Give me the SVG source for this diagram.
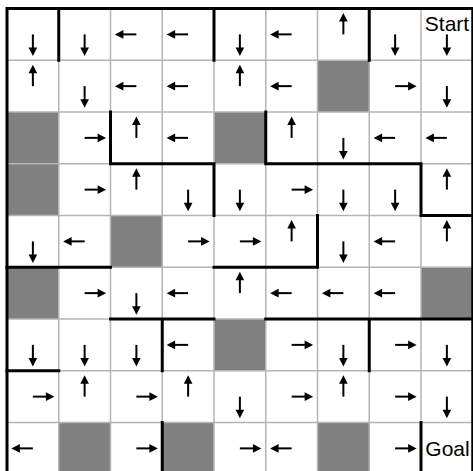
<svg xmlns="http://www.w3.org/2000/svg" width="473" height="471" viewBox="0 0 473 471">
<style>
.g{fill:#808080}
.grid line{stroke:#b4b4b4;stroke-width:1.5}
.wall{fill:none;stroke:#000;stroke-width:3;stroke-linecap:square}
.t{font-family:"Liberation Sans",Arial,sans-serif;font-size:21px;fill:#000;text-anchor:middle}
</style>
<defs>
<g id="a"><line x1="0" y1="0" x2="14" y2="0" stroke="#000" stroke-width="2"/><polygon points="21.5,0 13,-4.3 13,4.3" fill="#000"/></g>
</defs>
<rect width="473" height="471" fill="#fff"/>
<g id="blocked">
<rect class="g" x="317.5" y="60.25" width="51.75" height="51.75"/>
<rect class="g" x="7" y="112" width="51.75" height="51.75"/>
<rect class="g" x="214" y="112" width="51.75" height="51.75"/>
<rect class="g" x="7" y="163.75" width="51.75" height="51.75"/>
<rect class="g" x="110.5" y="215.5" width="51.75" height="51.75"/>
<rect class="g" x="7" y="267.25" width="51.75" height="51.75"/>
<rect class="g" x="421" y="267.25" width="51.75" height="51.75"/>
<rect class="g" x="214" y="319" width="51.75" height="51.75"/>
<rect class="g" x="58.75" y="422.5" width="51.75" height="51.75"/>
<rect class="g" x="162.25" y="422.5" width="51.75" height="51.75"/>
<rect class="g" x="317.5" y="422.5" width="51.75" height="51.75"/>
</g>
<g class="grid">
<line x1="58.75" y1="8.5" x2="58.75" y2="474.25"/>
<line x1="110.5" y1="8.5" x2="110.5" y2="474.25"/>
<line x1="162.25" y1="8.5" x2="162.25" y2="474.25"/>
<line x1="214" y1="8.5" x2="214" y2="474.25"/>
<line x1="265.75" y1="8.5" x2="265.75" y2="474.25"/>
<line x1="317.5" y1="8.5" x2="317.5" y2="474.25"/>
<line x1="369.25" y1="8.5" x2="369.25" y2="474.25"/>
<line x1="421" y1="8.5" x2="421" y2="474.25"/>
<line x1="7" y1="60.25" x2="472.75" y2="60.25"/>
<line x1="7" y1="112" x2="472.75" y2="112"/>
<line x1="7" y1="163.75" x2="472.75" y2="163.75"/>
<line x1="7" y1="215.5" x2="472.75" y2="215.5"/>
<line x1="7" y1="267.25" x2="472.75" y2="267.25"/>
<line x1="7" y1="319" x2="472.75" y2="319"/>
<line x1="7" y1="370.75" x2="472.75" y2="370.75"/>
<line x1="7" y1="422.5" x2="472.75" y2="422.5"/>
</g>
<g id="walls">
<rect class="wall" x="7" y="8.5" width="465.75" height="465.75"/>
<path class="wall" d="M58.75 8.5V60.25M214 8.5V60.25M369.25 8.5V60.25"/>
<path class="wall" d="M110.5 112V163.75H214V215.5"/>
<path class="wall" d="M265.75 112V163.75H421V215.5H472.75"/>
<path class="wall" d="M214 267.25H317.5V215.5"/>
<path class="wall" d="M7 267.25H110.5"/>
<path class="wall" d="M110.5 319H214M162.25 319V370.75"/>
<path class="wall" d="M265.75 319H472.75M369.25 319V370.75"/>
<path class="wall" d="M7 370.75H58.75"/>
<path class="wall" d="M162.25 422.5V474.25M421 422.5V474.25"/>
</g>
<g id="row0">
<use href="#a" transform="translate(32.875,34.375) rotate(90)"/>
<use href="#a" transform="translate(84.625,34.375) rotate(90)"/>
<use href="#a" transform="translate(136.375,34.375) rotate(180)"/>
<use href="#a" transform="translate(188.125,34.375) rotate(180)"/>
<use href="#a" transform="translate(239.875,34.375) rotate(90)"/>
<use href="#a" transform="translate(291.625,34.375) rotate(180)"/>
<use href="#a" transform="translate(343.375,34.375) rotate(-90)"/>
<use href="#a" transform="translate(395.125,34.375) rotate(90)"/>
</g>
<g id="start">
<text class="t" x="447" y="31">Start</text>
<use href="#a" transform="translate(446.875,34.375) rotate(90)"/>
</g>
<g id="row1">
<use href="#a" transform="translate(32.875,86.125) rotate(-90)"/>
<use href="#a" transform="translate(84.625,86.125) rotate(90)"/>
<use href="#a" transform="translate(136.375,86.125) rotate(180)"/>
<use href="#a" transform="translate(188.125,86.125) rotate(180)"/>
<use href="#a" transform="translate(239.875,86.125) rotate(-90)"/>
<use href="#a" transform="translate(291.625,86.125) rotate(180)"/>
<use href="#a" transform="translate(395.125,86.125) rotate(0)"/>
<use href="#a" transform="translate(446.875,86.125) rotate(90)"/>
</g>
<g id="row2">
<use href="#a" transform="translate(84.625,137.875) rotate(0)"/>
<use href="#a" transform="translate(136.375,137.875) rotate(-90)"/>
<use href="#a" transform="translate(188.125,137.875) rotate(180)"/>
<use href="#a" transform="translate(291.625,137.875) rotate(-90)"/>
<use href="#a" transform="translate(343.375,137.875) rotate(90)"/>
<use href="#a" transform="translate(395.125,137.875) rotate(180)"/>
<use href="#a" transform="translate(446.875,137.875) rotate(180)"/>
</g>
<g id="row3">
<use href="#a" transform="translate(84.625,189.625) rotate(0)"/>
<use href="#a" transform="translate(136.375,189.625) rotate(-90)"/>
<use href="#a" transform="translate(188.125,189.625) rotate(90)"/>
<use href="#a" transform="translate(239.875,189.625) rotate(90)"/>
<use href="#a" transform="translate(291.625,189.625) rotate(0)"/>
<use href="#a" transform="translate(343.375,189.625) rotate(90)"/>
<use href="#a" transform="translate(395.125,189.625) rotate(90)"/>
<use href="#a" transform="translate(446.875,189.625) rotate(-90)"/>
</g>
<g id="row4">
<use href="#a" transform="translate(32.875,241.375) rotate(90)"/>
<use href="#a" transform="translate(84.625,241.375) rotate(180)"/>
<use href="#a" transform="translate(188.125,241.375) rotate(0)"/>
<use href="#a" transform="translate(239.875,241.375) rotate(0)"/>
<use href="#a" transform="translate(291.625,241.375) rotate(-90)"/>
<use href="#a" transform="translate(343.375,241.375) rotate(90)"/>
<use href="#a" transform="translate(395.125,241.375) rotate(180)"/>
<use href="#a" transform="translate(446.875,241.375) rotate(-90)"/>
</g>
<g id="row5">
<use href="#a" transform="translate(84.625,293.125) rotate(0)"/>
<use href="#a" transform="translate(136.375,293.125) rotate(90)"/>
<use href="#a" transform="translate(188.125,293.125) rotate(180)"/>
<use href="#a" transform="translate(239.875,293.125) rotate(-90)"/>
<use href="#a" transform="translate(291.625,293.125) rotate(180)"/>
<use href="#a" transform="translate(343.375,293.125) rotate(180)"/>
<use href="#a" transform="translate(395.125,293.125) rotate(180)"/>
</g>
<g id="row6">
<use href="#a" transform="translate(32.875,344.875) rotate(90)"/>
<use href="#a" transform="translate(84.625,344.875) rotate(90)"/>
<use href="#a" transform="translate(136.375,344.875) rotate(90)"/>
<use href="#a" transform="translate(188.125,344.875) rotate(180)"/>
<use href="#a" transform="translate(291.625,344.875) rotate(0)"/>
<use href="#a" transform="translate(343.375,344.875) rotate(90)"/>
<use href="#a" transform="translate(395.125,344.875) rotate(0)"/>
<use href="#a" transform="translate(446.875,344.875) rotate(90)"/>
</g>
<g id="row7">
<use href="#a" transform="translate(32.875,396.625) rotate(0)"/>
<use href="#a" transform="translate(84.625,396.625) rotate(-90)"/>
<use href="#a" transform="translate(136.375,396.625) rotate(0)"/>
<use href="#a" transform="translate(188.125,396.625) rotate(-90)"/>
<use href="#a" transform="translate(239.875,396.625) rotate(90)"/>
<use href="#a" transform="translate(291.625,396.625) rotate(0)"/>
<use href="#a" transform="translate(343.375,396.625) rotate(-90)"/>
<use href="#a" transform="translate(395.125,396.625) rotate(0)"/>
<use href="#a" transform="translate(446.875,396.625) rotate(90)"/>
</g>
<g id="row8">
<use href="#a" transform="translate(32.875,448.375) rotate(180)"/>
<use href="#a" transform="translate(136.375,448.375) rotate(0)"/>
<use href="#a" transform="translate(239.875,448.375) rotate(0)"/>
<use href="#a" transform="translate(291.625,448.375) rotate(180)"/>
<use href="#a" transform="translate(395.125,448.375) rotate(0)"/>
</g>
<g id="goal">
<text class="t" x="447.5" y="456">Goal</text>
</g>
</svg>
